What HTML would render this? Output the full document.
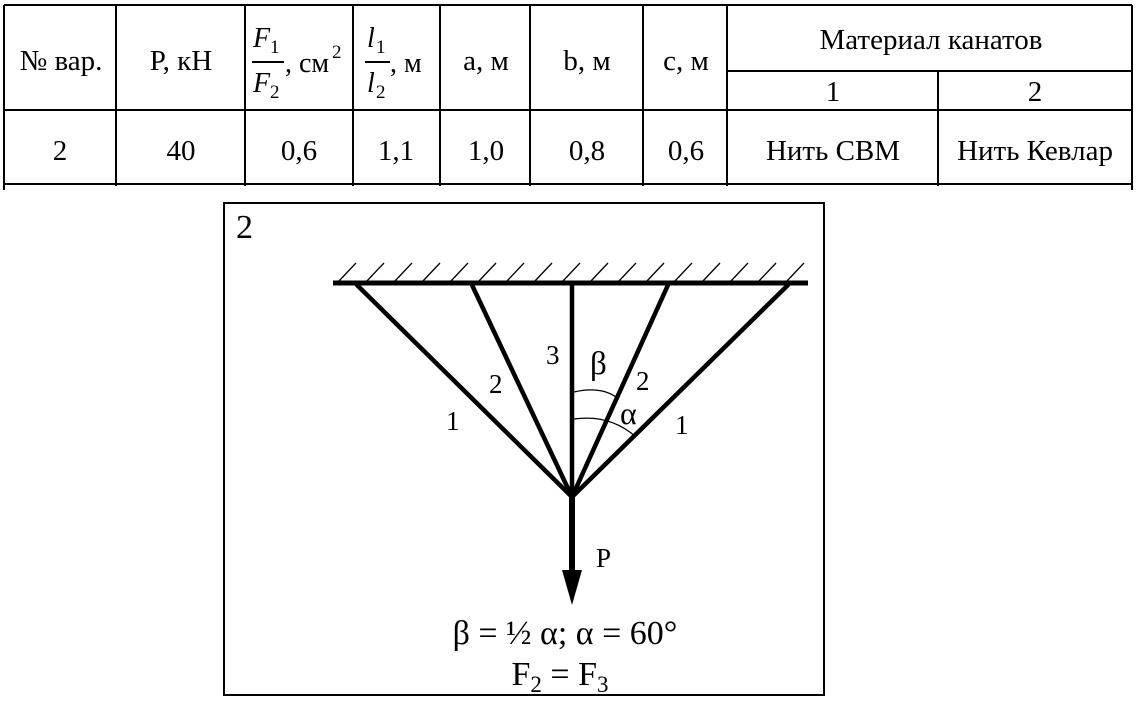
<!DOCTYPE html>
<html><head><meta charset="utf-8"><style>
html,body{margin:0;padding:0;background:#fff;width:1141px;height:707px;overflow:hidden}
svg text{font-family:"Liberation Serif",serif;fill:#000}
</style></head><body>
<svg width="1141" height="707" viewBox="0 0 1141 707" xmlns="http://www.w3.org/2000/svg">
<g stroke="#000" stroke-width="2" fill="none">
<line x1="4" y1="5" x2="1132" y2="5"/>
<line x1="4" y1="110" x2="1132" y2="110"/>
<line x1="4" y1="184" x2="1132" y2="184"/>
<line x1="727" y1="71" x2="1132" y2="71"/>
<line x1="4" y1="5" x2="4" y2="190"/>
<line x1="116" y1="5" x2="116" y2="186"/>
<line x1="245" y1="5" x2="245" y2="186"/>
<line x1="353" y1="5" x2="353" y2="186"/>
<line x1="440" y1="5" x2="440" y2="186"/>
<line x1="530" y1="5" x2="530" y2="186"/>
<line x1="643" y1="5" x2="643" y2="186"/>
<line x1="727" y1="5" x2="727" y2="186"/>
<line x1="938" y1="71" x2="938" y2="186"/>
<line x1="1132" y1="5" x2="1132" y2="190"/>
<rect x="224" y="203" width="600" height="492"/>
</g>
<g font-size="29" text-anchor="middle">
<text x="61" y="70">№ вар.</text>
<text x="181" y="70">P, кН</text>
<text x="486" y="70">a, м</text>
<text x="587" y="70">b, м</text>
<text x="686" y="70">c, м</text>
<text x="931" y="49">Материал канатов</text>
<text x="833" y="101">1</text>
<text x="1035" y="101">2</text>
<text x="60" y="160">2</text>
<text x="181" y="160">40</text>
<text x="299" y="160">0,6</text>
<text x="396" y="160">1,1</text>
<text x="486" y="160">1,0</text>
<text x="587" y="160">0,8</text>
<text x="686" y="160">0,6</text>
<text x="833" y="160">Нить СВМ</text>
<text x="1035" y="160">Нить Кевлар</text>
</g>
<g font-size="28" font-style="italic">
<text x="253" y="47">F</text><text x="270" y="53" font-size="19" font-style="normal">1</text>
<text x="253" y="92">F</text><text x="270" y="98" font-size="19" font-style="normal">2</text>
<text x="285" y="72" font-style="normal">, см</text><text x="332" y="58" font-size="19" font-style="normal">2</text>
<text x="367" y="47">l</text><text x="376" y="53" font-size="19" font-style="normal">1</text>
<text x="367" y="92">l</text><text x="376" y="98" font-size="19" font-style="normal">2</text>
<text x="390" y="72" font-style="normal">, м</text>
</g>
<line x1="252" y1="62" x2="284" y2="62" stroke="#000" stroke-width="2"/>
<line x1="365" y1="62" x2="390" y2="62" stroke="#000" stroke-width="2"/>
<text x="236" y="238" font-size="34">2</text>
<g stroke="#000" stroke-width="1.3">
<line x1="338" y1="282" x2="356" y2="263"/><line x1="366" y1="282" x2="384" y2="263"/>
<line x1="394" y1="282" x2="412" y2="263"/><line x1="422" y1="282" x2="440" y2="263"/>
<line x1="450" y1="282" x2="468" y2="263"/><line x1="478" y1="282" x2="496" y2="263"/>
<line x1="506" y1="282" x2="524" y2="263"/><line x1="534" y1="282" x2="552" y2="263"/>
<line x1="562" y1="282" x2="580" y2="263"/><line x1="590" y1="282" x2="608" y2="263"/>
<line x1="618" y1="282" x2="636" y2="263"/><line x1="646" y1="282" x2="664" y2="263"/>
<line x1="674" y1="282" x2="692" y2="263"/><line x1="702" y1="282" x2="720" y2="263"/>
<line x1="730" y1="282" x2="748" y2="263"/><line x1="758" y1="282" x2="776" y2="263"/>
<line x1="786" y1="282" x2="804" y2="263"/>
</g>
<g stroke="#000" stroke-width="4.5" fill="none" stroke-linecap="round">
<line x1="333" y1="283" x2="808" y2="283" stroke-width="5" stroke-linecap="butt"/>
<line x1="357" y1="285" x2="572" y2="497"/>
<line x1="472" y1="285" x2="572" y2="497"/>
<line x1="572" y1="285" x2="572" y2="497"/>
<line x1="668" y1="285" x2="572" y2="497"/>
<line x1="788" y1="285" x2="572" y2="497"/>
<line x1="572" y1="497" x2="572" y2="575" stroke-width="6" stroke-linecap="butt"/>
</g>
<polygon points="562,570 582,570 572,605" fill="#000"/>
<g stroke="#000" stroke-width="1.3" fill="none">
<path d="M574,392 Q600,386 616,397"/>
<path d="M574,419 Q610,414 636,437"/>
</g>
<g font-size="27">
<text x="546" y="364">3</text>
<text x="590" y="374" font-size="33">β</text>
<text x="489" y="393">2</text>
<text x="636" y="390">2</text>
<text x="620" y="424" font-size="32">α</text>
<text x="446" y="430">1</text>
<text x="675" y="434">1</text>
<text x="596" y="567">P</text>
</g>
<g text-anchor="middle">
<text x="565" y="644" font-size="34">β = ½ α; α = 60°</text>
<text x="560" y="685" font-size="34">F<tspan font-size="23" dy="7">2</tspan><tspan dy="-7"> = F</tspan><tspan font-size="23" dy="7">3</tspan></text>
</g>
</svg>
</body></html>
